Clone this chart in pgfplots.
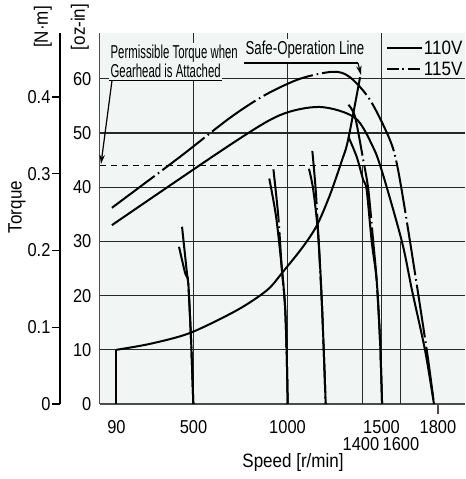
\documentclass[border=0pt]{standalone}
\usepackage{fontspec}
\setmainfont{Liberation Sans}
\newfontfamily\semifont{Liberation Sans}[FakeStretch=0.88]
\newfontfamily\condA{Liberation Sans}[FakeStretch=0.61]
\newfontfamily\condB{Liberation Sans}[FakeStretch=0.71]
\usepackage{pgfplots}
\pgfplotsset{compat=1.18}
\usetikzlibrary{arrows.meta}
\definecolor{bg}{RGB}{241,245,244}
\definecolor{gridc}{RGB}{40,40,40}

\tikzset{
  v110/.style={black, line width=1.5pt},
  v115/.style={black, line width=1.5pt, dash pattern=on 40pt off 3pt on 1.2pt off 3pt},
  gridline/.style={draw=gridc, line width=0.9pt},
}

\begin{document}
\begin{tikzpicture}
\path[use as bounding box] (0,0) rectangle (348.75pt,359.25pt);

% N.m axis (outer left)
\begin{axis}[
  at={(45pt,56.25pt)}, anchor=south west,
  scale only axis, width=1pt, height=278.25pt,
  xmin=0, xmax=1, ymin=0, ymax=0.48340,
  hide x axis, axis y line*=left,
  axis line style={draw=black, line width=1pt, -},
  ytick={0,0.1,0.2,0.3,0.4}, yticklabels={0,0.1,0.2,0.3,0.4},
  tick align=outside, major tick length=6pt,
  tick style={black, line width=0.9pt},
  yticklabel style={font=\semifont\fontsize{14}{14}\selectfont, inner sep=1pt},
]
\end{axis}

% main axis: oz-in vs speed
\begin{axis}[
  at={(74.625pt,56.25pt)}, anchor=south west,
  scale only axis, width=274.125pt, height=278.25pt,
  xmin=0, xmax=1944, ymin=0, ymax=68.45,
  axis x line*=bottom, axis y line*=left,
  axis line style={draw=black!70, line width=1.1pt, -},
  axis background/.style={fill=bg},
  xtick={90,500,1000,1500,1800}, xticklabels={90,500,1000,1500,1800},
  ytick={0,10,20,30,40,50,60}, yticklabels={0,10,20,30,40,50,60},
  major tick length=0pt,
  ymajorgrids, major grid style={gridline},
  ticklabel style={font=\semifont\fontsize{14}{14}\selectfont, text=black},
  xticklabel style={yshift=-8.5pt},
  yticklabel style={xshift=-2.6pt},
  clip=false,
]
% vertical grid lines
\addplot[gridline] coordinates {(500,0) (500,68.45)};
\addplot[gridline] coordinates {(1000,0) (1000,68.45)};
\addplot[gridline] coordinates {(1500,0) (1500,68.45)};
\addplot[gridline] coordinates {(1400,0) (1400,44)};
\addplot[gridline] coordinates {(1600,0) (1600,30)};
\draw[black!70, line width=0.9pt] (axis cs:1800,0) -- ++(0,-7.5pt);

% permissible torque with gearhead
\addplot[black, line width=1.4pt, dash pattern=on 5pt off 3.3pt] coordinates {(0,44) (1250,44)};
\addplot[black, line width=1.4pt] coordinates {(1250,44) (1580,44)};

% safe-operation line
\addplot[v110] coordinates {(90,0) (90,10)};
\addplot[v110, smooth] coordinates {
  (90,10) (269,11.1) (481,13.1) (731,17.3) (891,21.0) (976,24.4)
  (1082,29.0) (1157,33.0) (1226,38.6) (1290,45.0) (1322,48.7) (1386,60.3)};

% maximum torque curves
\addplot[v115, smooth] coordinates {
  (66,36.2) (428,45.6) (694,52.8) (880,57.0) (1066,60.0) (1242,61.3)
  (1332,60.3) (1439,56.1) (1545,48.7) (1588,43.2) (1652,29.9) (1742,9.6) (1779,0)};
\addplot[v110, smooth] coordinates {
  (66,33.0) (694,47.8) (960,53.3) (1173,54.8) (1359,52.8) (1455,47.4)
  (1508,42.3) (1609,29.9) (1662,21.0) (1731,10.0) (1779,0)};

% speed setting curves, 500 r/min
\addplot[v115, smooth] coordinates {(439,32.7) (465,24.2) (472,22.3) (487,11.8) (499,0)};
\addplot[v110, smooth] coordinates {(423,29.0) (455,24.2) (472,22.3) (487,11.8) (499,0)};
% 1000 r/min
\addplot[v115, smooth] coordinates {(925,43.3) (951,34.6) (969,25.3) (987,18.0) (996,8.7) (1001,0)};
\addplot[v110, smooth] coordinates {(903,41.6) (939,34.6) (969,25.3) (987,18.0) (996,8.7) (1001,0)};
% 1200 r/min
\addplot[v115, smooth] coordinates {(1132,46.7) (1150,39.5) (1164,30.9) (1182,19.2) (1194,8.7) (1203,0)};
\addplot[v110, smooth] coordinates {(1114,43.4) (1137,39.5) (1164,30.9) (1182,19.2) (1194,8.7) (1203,0)};
% 1500 r/min
\addplot[v115, smooth] coordinates {(1324,55.2) (1359,53.0) (1403,45.0) (1430,39.5) (1456,29.9) (1474,22.9) (1492,11.8) (1503,0)};
\addplot[v110, smooth] coordinates {(1324,49.3) (1368,45.6) (1403,41.3) (1421,39.5) (1448,29.9) (1474,22.9) (1492,11.8) (1503,0)};
\end{axis}

% labels and notes, in pixel units of the reference
\begin{scope}[x=0.75pt, y=-0.75pt, yshift=359.25pt]
\node[rotate=90, font=\semifont\fontsize{14.5}{14.5}\selectfont] at (17,207) {Torque};
\node[rotate=90, font=\semifont\fontsize{14.5}{14.5}\selectfont] at (43,27) {[N·m]};
\node[rotate=90, font=\semifont\fontsize{14.5}{14.5}\selectfont] at (80,27) {[oz-in]};
\node[font=\semifont\fontsize{14.5}{14.5}\selectfont] at (293,463) {Speed [r/min]};
\node[font=\semifont\fontsize{14}{14}\selectfont] at (361,444) {1400};
\node[font=\semifont\fontsize{14}{14}\selectfont] at (401,444) {1600};

% legend
\draw[v110] (387,48) -- (422,48);
\node[anchor=west, inner sep=0.5pt, font=\semifont\fontsize{14.5}{14.5}\selectfont] at (423,48) {110V};
\draw[black, line width=1.5pt, dash pattern=on 9pt off 2.5pt on 1.5pt off 2.5pt] (387,69) -- (422,69);
\node[anchor=west, inner sep=0.5pt, font=\semifont\fontsize{14.5}{14.5}\selectfont] at (423,69) {115V};

% notes
\node[anchor=base west, fill=bg, inner xsep=1pt, inner ysep=2pt, font=\condA\fontsize{14}{14}\selectfont] at (109,59) {Permissible Torque when};
\node[anchor=base west, fill=bg, inner xsep=1pt, inner ysep=2pt, font=\condA\fontsize{14}{14}\selectfont] at (109,78) {Gearhead is Attached};
\draw[black, line width=0.9pt] (109,80.5) -- (222,80.5);
\draw[black, line width=0.9pt, -{Stealth[length=7pt,width=4pt]}] (112,80.5) -- (101,164);

\node[anchor=base west, fill=bg, inner xsep=1pt, inner ysep=2pt, font=\condB\fontsize{14}{14}\selectfont] at (244,55) {Safe-Operation Line};
\draw[black, line width=0.9pt] (244,63) -- (358,63);
\draw[black, line width=0.9pt, -{Stealth[length=7pt,width=4pt]}] (358,63) -- (361,75);
\end{scope}
\end{tikzpicture}
\end{document}
